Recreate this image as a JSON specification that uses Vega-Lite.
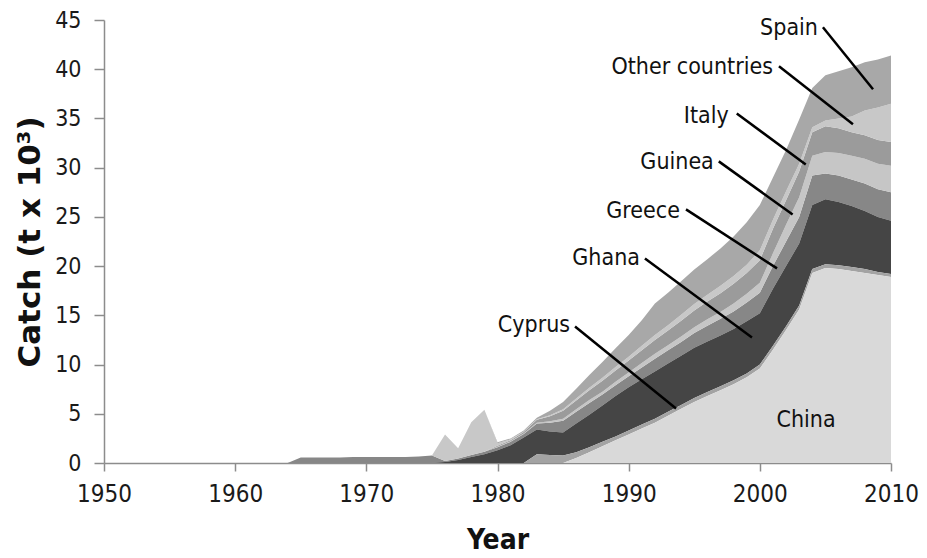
{
"$schema":"https://vega.github.io/schema/vega-lite/v6.json",
"width":787,"height":443,
"autosize":{"type":"none"},
"padding":{"left":104,"top":20,"right":36,"bottom":95},
"config":{"view":{"stroke":null},"font":"DejaVu Sans"},
"datasets":{
"catch":[
{"Year":1963,"Country":"Greece","Catch":0},{"Year":1964,"Country":"Greece","Catch":0},{"Year":1965,"Country":"Greece","Catch":0.55},{"Year":1966,"Country":"Greece","Catch":0.55},{"Year":1967,"Country":"Greece","Catch":0.55},{"Year":1968,"Country":"Greece","Catch":0.55},{"Year":1969,"Country":"Greece","Catch":0.6},{"Year":1970,"Country":"Greece","Catch":0.6},{"Year":1971,"Country":"Greece","Catch":0.6},{"Year":1972,"Country":"Greece","Catch":0.6},{"Year":1973,"Country":"Greece","Catch":0.6},{"Year":1974,"Country":"Greece","Catch":0.65},{"Year":1975,"Country":"Greece","Catch":0.75},{"Year":1976,"Country":"Greece","Catch":0.1},{"Year":1977,"Country":"Greece","Catch":0.15},{"Year":1978,"Country":"Greece","Catch":0.2},{"Year":1979,"Country":"Greece","Catch":0.25},{"Year":1980,"Country":"Greece","Catch":0.3},{"Year":1981,"Country":"Greece","Catch":0.35},{"Year":1982,"Country":"Greece","Catch":0.35},{"Year":1983,"Country":"Greece","Catch":0.6},{"Year":1984,"Country":"Greece","Catch":0.9},{"Year":1985,"Country":"Greece","Catch":1.2},{"Year":1986,"Country":"Greece","Catch":1.2},{"Year":1987,"Country":"Greece","Catch":1.2},{"Year":1988,"Country":"Greece","Catch":1.1},{"Year":1989,"Country":"Greece","Catch":1.1},{"Year":1990,"Country":"Greece","Catch":1.1},{"Year":1991,"Country":"Greece","Catch":1.2},{"Year":1992,"Country":"Greece","Catch":1.3},{"Year":1993,"Country":"Greece","Catch":1.35},{"Year":1994,"Country":"Greece","Catch":1.4},{"Year":1995,"Country":"Greece","Catch":1.5},{"Year":1996,"Country":"Greece","Catch":1.6},{"Year":1997,"Country":"Greece","Catch":1.7},{"Year":1998,"Country":"Greece","Catch":1.8},{"Year":1999,"Country":"Greece","Catch":1.9},{"Year":2000,"Country":"Greece","Catch":2.1},{"Year":2001,"Country":"Greece","Catch":2.3},{"Year":2002,"Country":"Greece","Catch":2.5},{"Year":2003,"Country":"Greece","Catch":2.7},{"Year":2004,"Country":"Greece","Catch":3.0},{"Year":2005,"Country":"Greece","Catch":2.6},{"Year":2006,"Country":"Greece","Catch":2.7},{"Year":2007,"Country":"Greece","Catch":2.7},{"Year":2008,"Country":"Greece","Catch":2.8},{"Year":2009,"Country":"Greece","Catch":2.8},{"Year":2010,"Country":"Greece","Catch":2.9},
{"Year":1975,"Country":"Ghana","Catch":0},{"Year":1976,"Country":"Ghana","Catch":0.1},{"Year":1977,"Country":"Ghana","Catch":0.3},{"Year":1978,"Country":"Ghana","Catch":0.6},{"Year":1979,"Country":"Ghana","Catch":0.9},{"Year":1980,"Country":"Ghana","Catch":1.3},{"Year":1981,"Country":"Ghana","Catch":1.8},{"Year":1982,"Country":"Ghana","Catch":2.6},{"Year":1983,"Country":"Ghana","Catch":2.5},{"Year":1984,"Country":"Ghana","Catch":2.4},{"Year":1985,"Country":"Ghana","Catch":2.35},{"Year":1986,"Country":"Ghana","Catch":2.9},{"Year":1987,"Country":"Ghana","Catch":3.3},{"Year":1988,"Country":"Ghana","Catch":3.7},{"Year":1989,"Country":"Ghana","Catch":4.1},{"Year":1990,"Country":"Ghana","Catch":4.4},{"Year":1991,"Country":"Ghana","Catch":4.6},{"Year":1992,"Country":"Ghana","Catch":4.8},{"Year":1993,"Country":"Ghana","Catch":4.9},{"Year":1994,"Country":"Ghana","Catch":5.0},{"Year":1995,"Country":"Ghana","Catch":5.1},{"Year":1996,"Country":"Ghana","Catch":5.15},{"Year":1997,"Country":"Ghana","Catch":5.15},{"Year":1998,"Country":"Ghana","Catch":5.2},{"Year":1999,"Country":"Ghana","Catch":5.3},{"Year":2000,"Country":"Ghana","Catch":5.2},{"Year":2001,"Country":"Ghana","Catch":5.8},{"Year":2002,"Country":"Ghana","Catch":6.1},{"Year":2003,"Country":"Ghana","Catch":6.3},{"Year":2004,"Country":"Ghana","Catch":6.5},{"Year":2005,"Country":"Ghana","Catch":6.6},{"Year":2006,"Country":"Ghana","Catch":6.4},{"Year":2007,"Country":"Ghana","Catch":6.2},{"Year":2008,"Country":"Ghana","Catch":5.9},{"Year":2009,"Country":"Ghana","Catch":5.6},{"Year":2010,"Country":"Ghana","Catch":5.4},
{"Year":1979,"Country":"Guinea","Catch":0},{"Year":1980,"Country":"Guinea","Catch":0.05},{"Year":1981,"Country":"Guinea","Catch":0.05},{"Year":1982,"Country":"Guinea","Catch":0.05},{"Year":1983,"Country":"Guinea","Catch":0.1},{"Year":1984,"Country":"Guinea","Catch":0.15},{"Year":1985,"Country":"Guinea","Catch":0.2},{"Year":1986,"Country":"Guinea","Catch":0.25},{"Year":1987,"Country":"Guinea","Catch":0.3},{"Year":1988,"Country":"Guinea","Catch":0.3},{"Year":1989,"Country":"Guinea","Catch":0.35},{"Year":1990,"Country":"Guinea","Catch":0.4},{"Year":1991,"Country":"Guinea","Catch":0.45},{"Year":1992,"Country":"Guinea","Catch":0.5},{"Year":1993,"Country":"Guinea","Catch":0.5},{"Year":1994,"Country":"Guinea","Catch":0.55},{"Year":1995,"Country":"Guinea","Catch":0.6},{"Year":1996,"Country":"Guinea","Catch":0.65},{"Year":1997,"Country":"Guinea","Catch":0.7},{"Year":1998,"Country":"Guinea","Catch":0.8},{"Year":1999,"Country":"Guinea","Catch":0.9},{"Year":2000,"Country":"Guinea","Catch":1.0},{"Year":2001,"Country":"Guinea","Catch":1.3},{"Year":2002,"Country":"Guinea","Catch":1.7},{"Year":2003,"Country":"Guinea","Catch":2.0},{"Year":2004,"Country":"Guinea","Catch":2.0},{"Year":2005,"Country":"Guinea","Catch":2.2},{"Year":2006,"Country":"Guinea","Catch":2.3},{"Year":2007,"Country":"Guinea","Catch":2.4},{"Year":2008,"Country":"Guinea","Catch":2.5},{"Year":2009,"Country":"Guinea","Catch":2.6},{"Year":2010,"Country":"Guinea","Catch":2.7},
{"Year":1979,"Country":"Italy","Catch":0},{"Year":1980,"Country":"Italy","Catch":0.1},{"Year":1981,"Country":"Italy","Catch":0.1},{"Year":1982,"Country":"Italy","Catch":0.15},{"Year":1983,"Country":"Italy","Catch":0.3},{"Year":1984,"Country":"Italy","Catch":0.5},{"Year":1985,"Country":"Italy","Catch":0.8},{"Year":1986,"Country":"Italy","Catch":0.9},{"Year":1987,"Country":"Italy","Catch":1.0},{"Year":1988,"Country":"Italy","Catch":1.1},{"Year":1989,"Country":"Italy","Catch":1.15},{"Year":1990,"Country":"Italy","Catch":1.2},{"Year":1991,"Country":"Italy","Catch":1.3},{"Year":1992,"Country":"Italy","Catch":1.4},{"Year":1993,"Country":"Italy","Catch":1.5},{"Year":1994,"Country":"Italy","Catch":1.6},{"Year":1995,"Country":"Italy","Catch":1.7},{"Year":1996,"Country":"Italy","Catch":1.8},{"Year":1997,"Country":"Italy","Catch":1.9},{"Year":1998,"Country":"Italy","Catch":2.0},{"Year":1999,"Country":"Italy","Catch":2.1},{"Year":2000,"Country":"Italy","Catch":2.3},{"Year":2001,"Country":"Italy","Catch":2.5},{"Year":2002,"Country":"Italy","Catch":2.5},{"Year":2003,"Country":"Italy","Catch":2.6},{"Year":2004,"Country":"Italy","Catch":2.4},{"Year":2005,"Country":"Italy","Catch":2.6},{"Year":2006,"Country":"Italy","Catch":2.5},{"Year":2007,"Country":"Italy","Catch":2.4},{"Year":2008,"Country":"Italy","Catch":2.4},{"Year":2009,"Country":"Italy","Catch":2.4},{"Year":2010,"Country":"Italy","Catch":2.4},
{"Year":1975,"Country":"Other countries","Catch":0},{"Year":1976,"Country":"Other countries","Catch":2.7},{"Year":1977,"Country":"Other countries","Catch":1.05},{"Year":1978,"Country":"Other countries","Catch":3.35},{"Year":1979,"Country":"Other countries","Catch":4.25},{"Year":1980,"Country":"Other countries","Catch":0.25},{"Year":1981,"Country":"Other countries","Catch":0.1},{"Year":1982,"Country":"Other countries","Catch":0.05},{"Year":1983,"Country":"Other countries","Catch":0.05},{"Year":1984,"Country":"Other countries","Catch":0.1},{"Year":1985,"Country":"Other countries","Catch":0.15},{"Year":1986,"Country":"Other countries","Catch":0.2},{"Year":1987,"Country":"Other countries","Catch":0.25},{"Year":1988,"Country":"Other countries","Catch":0.3},{"Year":1989,"Country":"Other countries","Catch":0.35},{"Year":1990,"Country":"Other countries","Catch":0.4},{"Year":1991,"Country":"Other countries","Catch":0.45},{"Year":1992,"Country":"Other countries","Catch":0.5},{"Year":1993,"Country":"Other countries","Catch":0.55},{"Year":1994,"Country":"Other countries","Catch":0.6},{"Year":1995,"Country":"Other countries","Catch":0.65},{"Year":1996,"Country":"Other countries","Catch":0.7},{"Year":1997,"Country":"Other countries","Catch":0.75},{"Year":1998,"Country":"Other countries","Catch":0.8},{"Year":1999,"Country":"Other countries","Catch":0.85},{"Year":2000,"Country":"Other countries","Catch":1.0},{"Year":2001,"Country":"Other countries","Catch":0.9},{"Year":2002,"Country":"Other countries","Catch":0.9},{"Year":2003,"Country":"Other countries","Catch":0.8},{"Year":2004,"Country":"Other countries","Catch":0.5},{"Year":2005,"Country":"Other countries","Catch":0.6},{"Year":2006,"Country":"Other countries","Catch":1.0},{"Year":2007,"Country":"Other countries","Catch":1.6},{"Year":2008,"Country":"Other countries","Catch":2.5},{"Year":2009,"Country":"Other countries","Catch":3.3},{"Year":2010,"Country":"Other countries","Catch":3.9},
{"Year":1979,"Country":"Spain","Catch":0},{"Year":1980,"Country":"Spain","Catch":0.1},{"Year":1981,"Country":"Spain","Catch":0.1},{"Year":1982,"Country":"Spain","Catch":0.1},{"Year":1983,"Country":"Spain","Catch":0.15},{"Year":1984,"Country":"Spain","Catch":0.45},{"Year":1985,"Country":"Spain","Catch":0.75},{"Year":1986,"Country":"Spain","Catch":1.0},{"Year":1987,"Country":"Spain","Catch":1.3},{"Year":1988,"Country":"Spain","Catch":1.6},{"Year":1989,"Country":"Spain","Catch":1.9},{"Year":1990,"Country":"Spain","Catch":2.2},{"Year":1991,"Country":"Spain","Catch":2.6},{"Year":1992,"Country":"Spain","Catch":3.2},{"Year":1993,"Country":"Spain","Catch":3.3},{"Year":1994,"Country":"Spain","Catch":3.4},{"Year":1995,"Country":"Spain","Catch":3.5},{"Year":1996,"Country":"Spain","Catch":3.6},{"Year":1997,"Country":"Spain","Catch":3.8},{"Year":1998,"Country":"Spain","Catch":4.0},{"Year":1999,"Country":"Spain","Catch":4.3},{"Year":2000,"Country":"Spain","Catch":4.6},{"Year":2001,"Country":"Spain","Catch":4.3},{"Year":2002,"Country":"Spain","Catch":4.2},{"Year":2003,"Country":"Spain","Catch":4.5},{"Year":2004,"Country":"Spain","Catch":4.0},{"Year":2005,"Country":"Spain","Catch":4.6},{"Year":2006,"Country":"Spain","Catch":4.8},{"Year":2007,"Country":"Spain","Catch":5.0},{"Year":2008,"Country":"Spain","Catch":4.9},{"Year":2009,"Country":"Spain","Catch":4.9},{"Year":2010,"Country":"Spain","Catch":4.9},
{"Year":1982,"Country":"Cyprus","Catch":0},{"Year":1983,"Country":"Cyprus","Catch":0.9},{"Year":1984,"Country":"Cyprus","Catch":0.8},{"Year":1985,"Country":"Cyprus","Catch":0.75},{"Year":1986,"Country":"Cyprus","Catch":0.6},{"Year":1987,"Country":"Cyprus","Catch":0.5},{"Year":1988,"Country":"Cyprus","Catch":0.45},{"Year":1989,"Country":"Cyprus","Catch":0.4},{"Year":1990,"Country":"Cyprus","Catch":0.4},{"Year":1991,"Country":"Cyprus","Catch":0.4},{"Year":1992,"Country":"Cyprus","Catch":0.4},{"Year":1993,"Country":"Cyprus","Catch":0.4},{"Year":1994,"Country":"Cyprus","Catch":0.4},{"Year":1995,"Country":"Cyprus","Catch":0.4},{"Year":1996,"Country":"Cyprus","Catch":0.4},{"Year":1997,"Country":"Cyprus","Catch":0.4},{"Year":1998,"Country":"Cyprus","Catch":0.4},{"Year":1999,"Country":"Cyprus","Catch":0.4},{"Year":2000,"Country":"Cyprus","Catch":0.4},{"Year":2001,"Country":"Cyprus","Catch":0.4},{"Year":2002,"Country":"Cyprus","Catch":0.4},{"Year":2003,"Country":"Cyprus","Catch":0.4},{"Year":2004,"Country":"Cyprus","Catch":0.4},{"Year":2005,"Country":"Cyprus","Catch":0.4},{"Year":2006,"Country":"Cyprus","Catch":0.4},{"Year":2007,"Country":"Cyprus","Catch":0.4},{"Year":2008,"Country":"Cyprus","Catch":0.4},{"Year":2009,"Country":"Cyprus","Catch":0.3},{"Year":2010,"Country":"Cyprus","Catch":0.3},
{"Year":1985,"Country":"China","Catch":0},{"Year":1986,"Country":"China","Catch":0.5},{"Year":1987,"Country":"China","Catch":1.1},{"Year":1988,"Country":"China","Catch":1.7},{"Year":1989,"Country":"China","Catch":2.3},{"Year":1990,"Country":"China","Catch":2.9},{"Year":1991,"Country":"China","Catch":3.5},{"Year":1992,"Country":"China","Catch":4.1},{"Year":1993,"Country":"China","Catch":4.8},{"Year":1994,"Country":"China","Catch":5.5},{"Year":1995,"Country":"China","Catch":6.2},{"Year":1996,"Country":"China","Catch":6.8},{"Year":1997,"Country":"China","Catch":7.4},{"Year":1998,"Country":"China","Catch":8.0},{"Year":1999,"Country":"China","Catch":8.7},{"Year":2000,"Country":"China","Catch":9.6},{"Year":2001,"Country":"China","Catch":11.5},{"Year":2002,"Country":"China","Catch":13.5},{"Year":2003,"Country":"China","Catch":15.6},{"Year":2004,"Country":"China","Catch":19.3},{"Year":2005,"Country":"China","Catch":19.8},{"Year":2006,"Country":"China","Catch":19.7},{"Year":2007,"Country":"China","Catch":19.5},{"Year":2008,"Country":"China","Catch":19.3},{"Year":2009,"Country":"China","Catch":19.1},{"Year":2010,"Country":"China","Catch":18.9}
],
"labels":[
{"label":"Spain","tx":2004.43,"ty":44.16,"lx1":2004.81,"ly1":44.26,"lx2":2008.63,"ly2":37.96},
{"label":"Other countries","tx":2001.0,"ty":40.2,"lx1":2001.46,"ly1":40.3,"lx2":2007.1,"ly2":34.4},
{"label":"Italy","tx":1997.63,"ty":35.21,"lx1":1998.24,"ly1":35.5,"lx2":2003.5,"ly2":30.33},
{"label":"Guinea","tx":1996.49,"ty":30.53,"lx1":1996.87,"ly1":30.64,"lx2":2002.5,"ly2":25.25},
{"label":"Greece","tx":1993.91,"ty":25.6,"lx1":1994.37,"ly1":25.76,"lx2":2001.31,"ly2":19.77},
{"label":"Ghana","tx":1990.86,"ty":20.78,"lx1":1991.24,"ly1":20.78,"lx2":1999.4,"ly2":12.75},
{"label":"Cyprus","tx":1985.53,"ty":13.97,"lx1":1985.91,"ly1":13.87,"lx2":1993.61,"ly2":5.54}
],
"inner":[{"label":"China","tx":2003.52,"ty":4.32}]
},
"layer":[
{"data":{"name":"catch"},
 "mark":{"type":"area","interpolate":"linear"},
 "encoding":{
  "x":{"field":"Year","type":"quantitative","title":"Year","scale":{"domain":[1950,2010],"nice":false,"zero":false},
   "axis":{"title":"Year","values":[1950,1960,1970,1980,1990,2000,2010],"format":"d","grid":false,
    "domainColor":"#8c8c8c","domainWidth":1.5,"tickColor":"#8c8c8c","tickWidth":1.5,"tickSize":8,
    "labelFont":"DejaVu Sans Condensed","labelFontSize":24,"labelColor":"#1a1a1a","labelPadding":11,"labelFlush":false,
    "titleFont":"DejaVu Sans Condensed","titleFontSize":28,"titleFontWeight":"bold","titleColor":"#111","titlePadding":20}},
  "y":{"field":"Catch","type":"quantitative","title":"Catch (t x 10³)","stack":"zero","scale":{"domain":[0,45],"nice":false},
   "axis":{"title":"Catch (t x 10³)","values":[0,5,10,15,20,25,30,35,40,45],"grid":false,
    "domainColor":"#8c8c8c","domainWidth":1.5,"tickColor":"#8c8c8c","tickWidth":1.5,"tickSize":10,
    "labelFont":"DejaVu Sans Condensed","labelFontSize":23,"labelColor":"#1a1a1a","labelPadding":13,"labelFlush":false,
    "titleFont":"DejaVu Sans","titleFontSize":31,"titleFontWeight":"bold","titleColor":"#111","titlePadding":8}},
  "color":{"field":"Country","type":"nominal","legend":null,
   "scale":{"domain":["China","Cyprus","Ghana","Greece","Guinea","Italy","Other countries","Spain"],
    "range":["#d9d9d9","#a3a3a3","#454545","#878787","#c6c6c6","#9b9b9b","#c8c8c8","#a8a8a8"]}},
  "order":{"field":"Country","sort":"ascending"}
 }},
{"data":{"name":"labels"},
 "mark":{"type":"rule","color":"#000","strokeWidth":2.5},
 "encoding":{"x":{"field":"lx1","type":"quantitative","title":"Year"},"y":{"field":"ly1","type":"quantitative","title":"Catch (t x 10³)"},"x2":{"field":"lx2"},"y2":{"field":"ly2"}}},
{"data":{"name":"labels"},
 "mark":{"type":"text","align":"right","baseline":"middle","font":"DejaVu Sans Condensed","fontSize":23,"color":"#111"},
 "encoding":{"x":{"field":"tx","type":"quantitative","title":"Year"},"y":{"field":"ty","type":"quantitative","title":"Catch (t x 10³)"},"text":{"field":"label"}}},
{"data":{"name":"inner"},
 "mark":{"type":"text","align":"center","baseline":"middle","font":"DejaVu Sans Condensed","fontSize":23,"color":"#111"},
 "encoding":{"x":{"field":"tx","type":"quantitative","title":"Year"},"y":{"field":"ty","type":"quantitative","title":"Catch (t x 10³)"},"text":{"field":"label"}}}
]
}
